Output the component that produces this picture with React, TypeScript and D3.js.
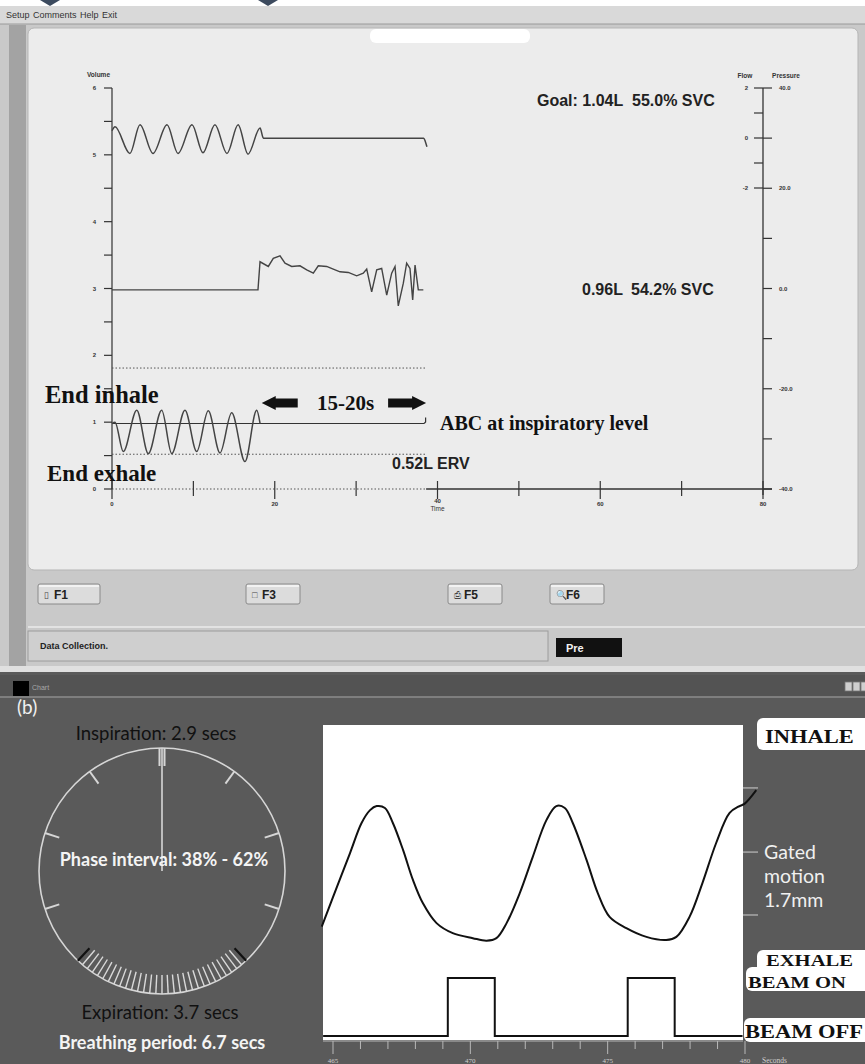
import React from 'react'
import * as d3 from 'd3'

// ---------- panel (a): spirometry screen ----------
const timeTicks = [0, 10, 20, 30, 40, 50, 60, 70, 80]
const timeLabels = [0, 20, 40, 60, 80]
const volumeTicks = [0, 0.5, 1, 1.5, 2, 2.5, 3, 3.5, 4, 4.5, 5, 5.5, 6]
const volumeLabels = [0, 1, 2, 3, 4, 5, 6]
const flowTicks = [-2, -1, 0, 1, 2]
const flowLabels = [-2, 0, 2]
const pressureTicks = [-40, -30, -20, -10, 0, 10, 20, 30, 40]
const pressureLabels = ['-40.0', '-20.0', '0.0', '20.0', '40.0']
const pressureLabelValues = [-40, -20, 0, 20, 40]

// [time s, volume L]
const upperTrace: [number, number][] = [
  [0, 5.36], [0.37, 5.42], [2.2, 5.02], [3.44, 5.45], [5.04, 5.02], [6.76, 5.45],
  [8.11, 5.02], [9.83, 5.45], [11.18, 5.03], [12.65, 5.45], [14.13, 5.02], [15.5, 5.45],
  [16.71, 5.01], [18.2, 5.4], [18.6, 5.25], [38.3, 5.25], [38.5, 5.2], [38.7, 5.12],
]
const middleTrace: [number, number][] = [
  [0, 2.98], [17.94, 2.98], [18.19, 3.4], [19.21, 3.33], [19.82, 3.45], [20.65, 3.49],
  [21.26, 3.38], [22.08, 3.33], [23.1, 3.34], [23.93, 3.28], [24.74, 3.23], [25.35, 3.34],
  [26.38, 3.33], [27.19, 3.29], [28.02, 3.25], [29.04, 3.24], [30.07, 3.19], [30.88, 3.23],
  [31.3, 3.29], [31.91, 2.95], [32.53, 3.28], [33.14, 3.3], [33.76, 2.9], [34.37, 3.23],
  [34.78, 3.33], [35.18, 2.74], [35.8, 3.08], [36.21, 3.38], [36.62, 3.3], [36.95, 2.83],
  [37.24, 3.35], [37.64, 2.98], [38.26, 2.98],
]
const lowerTrace: [number, number][] = [
  [0, 0.98], [0.37, 1.0], [1.39, 0.56], [3.04, 1.18], [4.46, 0.53], [6.11, 1.18],
  [7.34, 0.53], [8.97, 1.18], [10.41, 0.56], [11.83, 1.17], [13.27, 0.54], [14.71, 1.14],
  [16.34, 0.41], [17.78, 1.18], [18.2, 0.98],
]
const holdStart = 18.4
const holdEnd = 38.6
const inspLevel = 0.98
const ervLevel = 0.52
const upperDotted = 1.81

// ---------- panel (b): respiratory gating ----------
const secTicks = [465, 466, 467, 468, 469, 470, 471, 472, 473, 474, 475, 476, 477, 478, 479, 480]
const secLabels = [465, 470, 475, 480]
// [time s, motion mm]
const motionTrace: [number, number][] = [
  [464.59, 3.56], [465.0, 4.5], [465.62, 5.91], [466.04, 6.87], [466.35, 7.28], [466.59, 7.41],
  [466.89, 7.35], [467.18, 6.87], [467.55, 6.01], [467.91, 5.05], [468.27, 4.31], [468.77, 3.67],
  [469.36, 3.35], [470.09, 3.19], [470.59, 3.11], [470.95, 3.19], [471.32, 3.67], [471.8, 4.63],
  [472.27, 5.78], [472.77, 6.96], [473.13, 7.41], [473.44, 7.35], [473.73, 6.87], [474.23, 5.69],
  [474.64, 4.63], [475.07, 3.87], [475.68, 3.51], [476.41, 3.23], [477.13, 3.13], [477.5, 3.23],
  [477.98, 3.87], [478.45, 4.95], [478.95, 6.23], [479.44, 7.19], [479.8, 7.41], [479.98, 7.48],
  [480.41, 7.92],
]
const beamSwitchTimes = [464.64, 469.18, 470.89, 475.73, 477.44, 479.91]
const beamStates = [0, 1, 0, 1, 0, 0]
const gateLevels = [3.93, 5.94, 7.99]
const phaseStart = 0.38
const phaseEnd = 0.62
const inspiration = 2.9
const expiration = 3.7
const period = 6.7

const sans = 'Liberation Sans, Arial, sans-serif'
const serif = 'Liberation Serif, Times New Roman, serif'
const gill = 'Lato, Open Sans, sans-serif'

const xTime = d3.scaleLinear().domain([0, 80]).range([112, 763])
const yVol = d3.scaleLinear().domain([0, 6]).range([489, 88])
const yFlow = d3.scaleLinear().domain([-2, 2]).range([188, 88])
const yPress = d3.scaleLinear().domain([-40, 40]).range([489, 88])

const xSec = d3.scaleLinear().domain([465, 480]).range([333, 745])
const yMm = d3.scaleLinear().domain([0, 10]).range([1038, 725])
const yGate = d3.scaleLinear().domain([0, 1]).range([1036, 978])

const smoothVol = d3.line<[number, number]>().x(d => xTime(d[0])).y(d => yVol(d[1])).curve(d3.curveMonotoneX)
const jaggedVol = d3.line<[number, number]>().x(d => xTime(d[0])).y(d => yVol(d[1]))
const motionLine = d3.line<[number, number]>().x(d => xSec(d[0])).y(d => yMm(d[1])).curve(d3.curveCatmullRom)
const beamLine = d3.line<number>().x(d => xSec(beamSwitchTimes[d])).y(d => yGate(beamStates[d])).curve(d3.curveStepAfter)

const arrowPath = (tip: number, tail: number, y: number) => {
  const h = tail > tip ? 14 : -14
  return `M${tip},${y} L${tip + h},${y - 7} L${tip + h},${y - 4.5} L${tail},${y - 4.5} L${tail},${y + 4.5} L${tip + h},${y + 4.5} L${tip + h},${y + 7} Z`
}

// dial geometry
const cx = 162, cy = 871, R = 123
const pt = (deg: number, r: number) => {
  const a = (deg * Math.PI) / 180
  return [cx + r * Math.sin(a), cy - r * Math.cos(a)]
}

const Button = ({ x, w, label, icon }: { x: number; w: number; label: string; icon: string }) => (
  <g>
    <rect x={x} y={584} width={w} height={20} fill="#dcdcdc" stroke="#8a8a8a" rx={2} />
    <rect x={x + 1} y={585} width={w - 2} height={2} fill="#f2f2f2" />
    <text x={x + 6} y={598} fontSize={9} fill="#444" fontFamily={sans}>{icon}</text>
    <text x={x + 16} y={599} fontSize={12} fontWeight="bold" fill="#222" fontFamily={sans}>{label}</text>
  </g>
)

const WideLabel = ({ x, y, text, size = 18 }: { x: number; y: number; text: string; size?: number }) => (
  <text transform={`translate(${x},${y}) scale(1.25,1)`} fontSize={size} fontWeight="bold" fill="#111" fontFamily={serif}>{text}</text>
)

export default function App() {
  const a0 = phaseStart * 360
  const a1 = phaseEnd * 360
  const hatch = d3.range(1, 30).map(i => a0 + (i * (a1 - a0)) / 30)
  const majors = d3.range(0, 10).map(i => i * 36).filter(a => a < a0 || a > a1)
  const plotL = 323, plotR = 743, plotT = 725, plotB = 1038

  return (
    <svg width={865} height={1064} style={{ position: 'absolute', left: 0, top: 0, display: 'block' }}>
      {/* ===== top window ===== */}
      <rect x={0} y={0} width={865} height={672} fill="#c9c9c9" />
      <rect x={0} y={0} width={865} height={6} fill="#ffffff" />
      <path d="M40,0 L60,0 L50,6 Z" fill="#3c4a5e" />
      <path d="M258,0 L278,0 L268,6 Z" fill="#3c4a5e" />
      <rect x={0} y={6} width={865} height={18} fill="#d9d9d9" />
      <line x1={0} x2={865} y1={24} y2={24} stroke="#9a9a9a" />
      <text x={6} y={18} fontSize={9} fill="#333" fontFamily={sans} wordSpacing={1}>Setup Comments Help Exit</text>
      <rect x={9} y={25} width={17} height={645} fill="#a3a3a3" />
      <rect x={28} y={28} width={830} height={542} fill="#ececec" stroke="#b5b5b5" rx={6} />
      <rect x={370} y={29} width={160} height={14} rx={6} fill="#ffffff" />

      {/* volume axis */}
      <line x1={112} x2={112} y1={yVol(6)} y2={yVol(0)} stroke="#333" strokeWidth={1.2} />
      {volumeTicks.map(v => (
        <line key={v} x1={104} x2={112} y1={yVol(v)} y2={yVol(v)} stroke="#333" strokeWidth={1.2} />
      ))}
      {volumeLabels.map(v => (
        <text key={v} x={96} y={yVol(v) + 2} fontSize={6} fontWeight="bold" textAnchor="end" fill="#333" fontFamily={sans}>{v}</text>
      ))}
      <text x={87} y={77} fontSize={6.5} fontWeight="bold" fill="#333" fontFamily={sans}>Volume</text>

      {/* time axis */}
      <line x1={xTime(0)} x2={xTime(holdEnd)} y1={yVol(0)} y2={yVol(0)} stroke="#555" strokeDasharray="1.5 2" />
      <line x1={xTime(holdEnd)} x2={772} y1={yVol(0)} y2={yVol(0)} stroke="#333" strokeWidth={1.3} />
      {timeTicks.map(t => (
        <line key={t} x1={xTime(t)} x2={xTime(t)} y1={yVol(0) - 8} y2={yVol(0) + (timeLabels.includes(t) ? 10 : 7)} stroke="#333" strokeWidth={1.2} />
      ))}
      {timeLabels.map(t => (
        <text key={t} x={xTime(t)} y={t === 40 ? 503 : 506} fontSize={6} fontWeight="bold" textAnchor="middle" fill="#333" fontFamily={sans}>{t}</text>
      ))}
      <text x={xTime(40)} y={511} fontSize={6.5} textAnchor="middle" fill="#333" fontFamily={sans}>Time</text>

      {/* flow / pressure axis */}
      <line x1={763} x2={763} y1={yPress(40)} y2={yPress(-40) + 6} stroke="#333" strokeWidth={1.3} />
      {flowTicks.map(f => (
        <line key={f} x1={754} x2={763} y1={yFlow(f)} y2={yFlow(f)} stroke="#333" strokeWidth={1.2} />
      ))}
      {pressureTicks.map(p => (
        <line key={p} x1={763} x2={772} y1={yPress(p)} y2={yPress(p)} stroke="#333" strokeWidth={1.2} />
      ))}
      {flowLabels.map(f => (
        <text key={f} x={748} y={yFlow(f) + 2} fontSize={6} fontWeight="bold" textAnchor="end" fill="#333" fontFamily={sans}>{f}</text>
      ))}
      {pressureLabelValues.map((p, i) => (
        <text key={p} x={779} y={yPress(p) + 2} fontSize={6} fontWeight="bold" fill="#333" fontFamily={sans}>{pressureLabels[i]}</text>
      ))}
      <text x={745} y={78} fontSize={6.5} fontWeight="bold" textAnchor="middle" fill="#333" fontFamily={sans}>Flow</text>
      <text x={786} y={78} fontSize={6.5} fontWeight="bold" textAnchor="middle" fill="#333" fontFamily={sans}>Pressure</text>

      {/* reference dotted lines */}
      {[upperDotted, ervLevel].map(v => (
        <line key={v} x1={xTime(0)} x2={xTime(holdEnd)} y1={yVol(v)} y2={yVol(v)} stroke="#555" strokeDasharray="1.5 2" />
      ))}
      <line x1={xTime(0)} x2={xTime(holdEnd) - 2} y1={yVol(inspLevel)} y2={yVol(inspLevel)} stroke="#333" strokeWidth={1.2} />
      <path d={`M${xTime(holdEnd) - 2},${yVol(inspLevel)} L${xTime(holdEnd) - 0.5},${yVol(inspLevel) - 1.5} L${xTime(holdEnd) - 0.5},${yVol(inspLevel + 0.09)}`} fill="none" stroke="#333" strokeWidth={1.2} />

      {/* traces */}
      <path d={smoothVol(upperTrace) ?? ''} fill="none" stroke="#444" strokeWidth={1.5} />
      <path d={jaggedVol(middleTrace) ?? ''} fill="none" stroke="#444" strokeWidth={1.4} />
      <path d={smoothVol(lowerTrace) ?? ''} fill="none" stroke="#444" strokeWidth={1.5} />

      {/* annotations */}
      <text x={537} y={106} fontSize={16} fontWeight="bold" fill="#222" fontFamily={sans}>Goal: 1.04L</text>
      <text x={632} y={106} fontSize={16} fontWeight="bold" fill="#222" fontFamily={sans}>55.0% SVC</text>
      <text x={582} y={295} fontSize={16} fontWeight="bold" fill="#222" fontFamily={sans}>0.96L</text>
      <text x={631} y={295} fontSize={16} fontWeight="bold" fill="#222" fontFamily={sans}>54.2% SVC</text>
      <text x={392} y={469} fontSize={16} fontWeight="bold" fill="#222" fontFamily={sans}>0.52L ERV</text>
      <text x={45} y={403} fontSize={24.5} fontWeight="bold" fill="#111" fontFamily={serif}>End inhale</text>
      <text x={47} y={481} fontSize={23} fontWeight="bold" fill="#111" fontFamily={serif}>End exhale</text>
      <path d={arrowPath(xTime(holdStart), xTime(holdStart) + 36, 403)} fill="#111" />
      <path d={arrowPath(xTime(holdEnd), xTime(holdEnd) - 38, 403)} fill="#111" />
      <text x={317} y={410} fontSize={21} fontWeight="bold" fill="#111" fontFamily={serif}>15-20s</text>
      <text x={440} y={430} fontSize={20} fontWeight="bold" fill="#111" fontFamily={serif}>ABC at inspiratory level</text>

      {/* button bar & status */}
      <Button x={38} w={62} label="F1" icon="▯" />
      <Button x={246} w={54} label="F3" icon="□" />
      <Button x={448} w={54} label="F5" icon="⎙" />
      <Button x={550} w={54} label="F6" icon="🔍" />
      <line x1={28} x2={865} y1={627} y2={627} stroke="#e2e2e2" strokeWidth={2} />
      <rect x={28} y={631} width={520} height={30} fill="#cfcfcf" stroke="#9c9c9c" />
      <text x={40} y={649} fontSize={9} fontWeight="bold" fill="#222" fontFamily={sans}>Data Collection.</text>
      <rect x={556} y={638} width={66} height={19} fill="#111" />
      <text x={566} y={652} fontSize={11} fontWeight="bold" fill="#f2f2f2" fontFamily={sans}>Pre</text>
      <rect x={0} y={666} width={865} height={6} fill="#e0e0e0" />

      {/* ===== bottom window ===== */}
      <rect x={0} y={672} width={865} height={392} fill="#5a5a5a" />
      <rect x={0} y={675} width={865} height={22} fill="#535353" />
      <line x1={0} x2={865} y1={697} y2={697} stroke="#8c8c8c" strokeWidth={1.5} />
      <rect x={13} y={681} width={16} height={15} fill="#000" />
      <text x={32} y={690} fontSize={7} fill="#a8a8a8" fontFamily={sans}>Chart</text>
      {[845, 853, 861].map(x => (
        <rect key={x} x={x} y={682} width={7} height={9} fill="#cfcfcf" stroke="#777" strokeWidth={0.8} />
      ))}
      <text x={17} y={714} fontSize={19} fill="#f0f0f0" fontFamily={gill}>(b)</text>

      {/* dial */}
      <circle cx={cx} cy={cy} r={R} fill="none" stroke="#d6d6d6" strokeWidth={1.6} />
      {majors.map(a => {
        const off = a === 0 ? [-2.5, 2.5] : [0]
        return off.map(o => {
          const [x1, y1] = pt(a, R)
          const [x2, y2] = pt(a, R - (a === 0 ? 18 : 15))
          return <line key={`${a}-${o}`} x1={x1 + o} y1={y1} x2={x2 + o} y2={y2} stroke="#d6d6d6" strokeWidth={2} />
        })
      })}
      <line x1={cx} y1={cy - R} x2={cx} y2={cy} stroke="#d6d6d6" strokeWidth={1.6} />
      {hatch.map(a => {
        const [x1, y1] = pt(a, R)
        const [x2, y2] = pt(a, R - 19)
        return <line key={a} x1={x1} y1={y1} x2={x2} y2={y2} stroke="#d9d9d9" strokeWidth={1.4} />
      })}
      {[a0, a1].map(a => {
        const [x1, y1] = pt(a, R)
        const [x2, y2] = pt(a, R - 17)
        return <line key={a} x1={x1} y1={y1} x2={x2} y2={y2} stroke="#111" strokeWidth={2.2} />
      })}
      <text x={cx - 6} y={740} fontSize={18.5} textAnchor="middle" fill="#111" fontFamily={gill}>{`Inspiration: ${inspiration} secs`}</text>
      <text x={cx + 2} y={866} fontSize={18} fontWeight="bold" textAnchor="middle" fill="#f4f4f4" fontFamily={gill}>Phase interval: {Math.round(phaseStart * 100)}% - {Math.round(phaseEnd * 100)}%</text>
      <text x={cx - 2} y={1019} fontSize={18.5} textAnchor="middle" fill="#111" fontFamily={gill}>{`Expiration: ${expiration} secs`}</text>
      <text x={cx} y={1049} fontSize={18} fontWeight="bold" textAnchor="middle" fill="#f4f4f4" fontFamily={gill}>{`Breathing period: ${period} secs`}</text>

      {/* motion plot */}
      <rect x={plotL} y={plotT} width={plotR - plotL} height={plotB - plotT + 2} fill="#ffffff" />
      <line x1={plotL} x2={plotR} y1={1041} y2={1041} stroke="#b8b8b8" strokeWidth={1} />
      {secTicks.map(t => (
        <line key={t} x1={xSec(t)} x2={xSec(t)} y1={1041} y2={secLabels.includes(t) ? 1054 : 1049} stroke="#b8b8b8" strokeWidth={1} />
      ))}
      {secLabels.map(t => (
        <text key={t} x={xSec(t)} y={1063} fontSize={7} textAnchor="middle" fill="#d0d0d0" fontFamily={serif}>{t}</text>
      ))}
      <text x={762} y={1063} fontSize={7.5} fill="#d0d0d0" fontFamily={serif}>Seconds</text>
      <path d={beamLine(d3.range(beamSwitchTimes.length)) ?? ''} fill="none" stroke="#111" strokeWidth={2} />
      <path d={motionLine(motionTrace) ?? ''} fill="none" stroke="#111" strokeWidth={2} />
      {gateLevels.map(g => (
        <line key={g} x1={plotR} x2={plotR + 15} y1={yMm(g)} y2={yMm(g)} stroke="#a8a8a8" strokeWidth={1.5} />
      ))}

      {/* right labels */}
      <rect x={757} y={718} width={120} height={32} rx={6} fill="#ffffff" />
      <WideLabel x={765} y={743} text="INHALE" />
      <rect x={757} y={950} width={120} height={25} rx={6} fill="#ffffff" />
      <rect x={746} y={967} width={130} height={24} rx={6} fill="#ffffff" />
      <WideLabel x={766} y={966} text="EXHALE" size={16.5} />
      <WideLabel x={748} y={988} text="BEAM ON" size={16.5} />
      <rect x={744} y={1018} width={130} height={24} rx={6} fill="#ffffff" />
      <WideLabel x={745} y={1038} text="BEAM OFF" />
      <text x={764} y={859} fontSize={19.5} fill="#f0f0f0" fontFamily={gill}>Gated</text>
      <text x={764} y={883} fontSize={19.5} fill="#f0f0f0" fontFamily={gill}>motion</text>
      <text x={764} y={907} fontSize={19.5} fill="#f0f0f0" fontFamily={gill}>1.7mm</text>
    </svg>
  )
}
